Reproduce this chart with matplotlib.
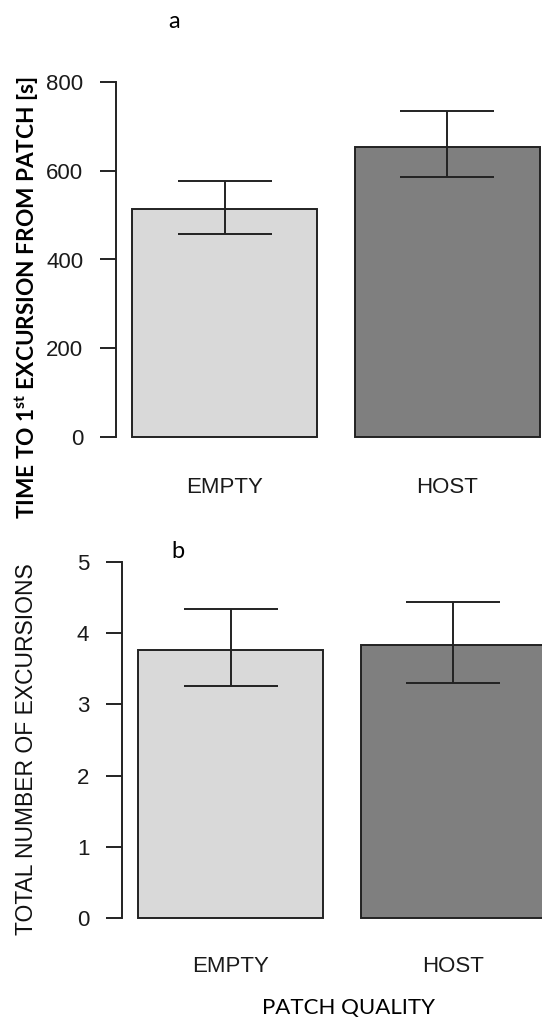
import matplotlib
matplotlib.use("Agg")
import matplotlib.pyplot as plt

# data
groups = ["EMPTY", "HOST"]
time_mean = [513, 653]
time_low = [457, 585]
time_high = [577, 734]
exc_mean = [3.76, 3.83]
exc_low = [3.26, 3.30]
exc_high = [4.34, 4.44]
time_ticks = [0, 200, 400, 600, 800]
exc_ticks = [0, 1, 2, 3, 4, 5]

bar_colors = ["#d9d9d9", "#7f7f7f"]
pos = [0.7, 1.9]  # R barplot style positions (width 1, space 0.2)

plt.rcParams["mathtext.fontset"] = "custom"
plt.rcParams["mathtext.rm"] = "Lato:bold"
plt.rcParams["mathtext.bf"] = "Lato:bold"

W, H = 542, 1018
fig = plt.figure(figsize=(W / 100, H / 100), dpi=100)


def make_panel(left, right, y0, y1, ymax, means, lows, highs, ticks):
    ax = fig.add_axes([left / W, 1 - y0 / H, (right - left) / W, (y0 - y1) / H])
    ax.set_xlim(0.112, 2.488)
    ax.set_ylim(0, ymax)
    ax.bar(pos, means, width=1.0, color=bar_colors, edgecolor="#222222", linewidth=1.4, clip_on=False)
    err = [[m - l for m, l in zip(means, lows)], [h - m for m, h in zip(means, highs)]]
    ax.errorbar(pos, means, yerr=err, fmt="none", ecolor="#222222", elinewidth=1.4,
                capsize=34, capthick=1.4, clip_on=False)
    for s in ["top", "right", "bottom"]:
        ax.spines[s].set_visible(False)
    ax.spines["left"].set_linewidth(1.4)
    ax.spines["left"].set_color("#222222")
    ax.set_yticks(ticks)
    ax.tick_params(axis="y", direction="out", length=11.5, width=1.4, color="#222222",
                   pad=12, labelsize=16)
    for t in ax.get_yticklabels():
        t.set_fontfamily("Liberation Sans")
        t.set_color("#1a1a1a")
    ax.set_xticks([])
    ax.patch.set_alpha(0)
    return ax


ax1 = make_panel(116, 556, 437, 82, 800, time_mean, time_low, time_high, time_ticks)
ax2 = make_panel(122, 562, 918, 562, 5, exc_mean, exc_low, exc_high, exc_ticks)

for ax, ypix in [(ax1, 488), (ax2, 966)]:
    for p, g in zip(pos, groups):
        x_fig = ax.transData.transform((p, 0))[0] / W
        fig.text(x_fig, 1 - ypix / H, g, ha="center", va="center", fontsize=16,
                 family="Liberation Sans", color="#1a1a1a")

fig.text(174 / W, 1 - 22 / H, "a", ha="center", va="center", fontsize=17, family="Lato")
fig.text(178 / W, 1 - 551 / H, "b", ha="center", va="center", fontsize=17, family="Lato")

fig.text(27 / W, 1 - 298 / H, r"TIME TO 1$^{\mathrm{st}}$ EXCURSION FROM PATCH [s]", rotation=90,
         ha="center", va="center", fontsize=16.3, family="Lato", weight="bold")
fig.text(27 / W, 1 - 749 / H, "TOTAL NUMBER OF EXCURSIONS", rotation=90,
         ha="center", va="center", fontsize=16.5, family="Liberation Sans", color="#111111")
fig.text(349 / W, 1 - 1008 / H, "PATCH QUALITY", ha="center", va="center", fontsize=16,
         family="Lato")

fig.savefig("out.png", dpi=100)
